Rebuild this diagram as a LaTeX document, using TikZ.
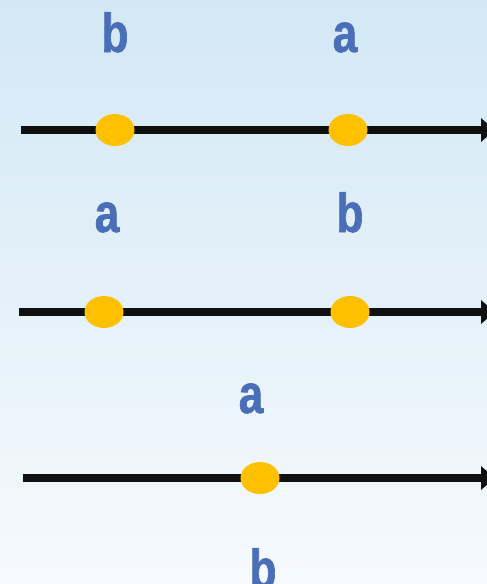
\documentclass[tikz,border=0pt]{standalone}
\usepackage{fontspec}
\newfontfamily\lblfont{Liberation Sans Bold}[FakeStretch=0.8,FakeBold=1.2]
\usetikzlibrary{arrows.meta,shapes.geometric}
\definecolor{lblblue}{HTML}{4A6FB8}
\definecolor{dotyellow}{HTML}{FFC000}
\definecolor{axisblack}{HTML}{101010}
\definecolor{bgtop}{HTML}{D3E8F5}
\definecolor{bgbot}{HTML}{F6FAFE}
\tikzset{
  lbl/.style={inner sep=0pt, anchor=base, text=lblblue, font=\lblfont\fontsize{55}{55}\selectfont},
  dot/.style={ellipse, fill=dotyellow, minimum width=39pt, minimum height=32pt, inner sep=0pt},
  axis/.style={line width=7.5pt, draw=axisblack, -{Triangle[width=23pt,length=14pt]}}
}
\begin{document}
\begin{tikzpicture}[x=1pt,y=-1pt]
\useasboundingbox (0,0) rectangle (487,584);
\clip (0,0) rectangle (487,584);
\shade[top color=bgtop, bottom color=bgbot] (0,0) rectangle (487,584);
% row 1
\coordinate (s1) at (21,130);
\coordinate (e1) at (495,130);
\draw[axis] (s1) -- (e1);
\node[dot] (d1b) at (115,130) {};
\node[dot] (d1a) at (348,130) {};
\node[lbl] (l1b) at (115,52) {b};
\node[lbl] (l1a) at (345,52) {a};
% row 2
\coordinate (s2) at (19,312);
\coordinate (e2) at (495,312);
\draw[axis] (s2) -- (e2);
\node[dot] (d2a) at (104,312) {};
\node[dot] (d2b) at (350,312) {};
\node[lbl] (l2a) at (107,232) {a};
\node[lbl] (l2b) at (350,232) {b};
% row 3
\coordinate (s3) at (23,478);
\coordinate (e3) at (495,478);
\draw[axis] (s3) -- (e3);
\node[dot] (d3) at (260,478) {};
\node[lbl] (l3a) at (251,413) {a};
\node[lbl] (l3b) at (263,588) {b};
\end{tikzpicture}
\end{document}
